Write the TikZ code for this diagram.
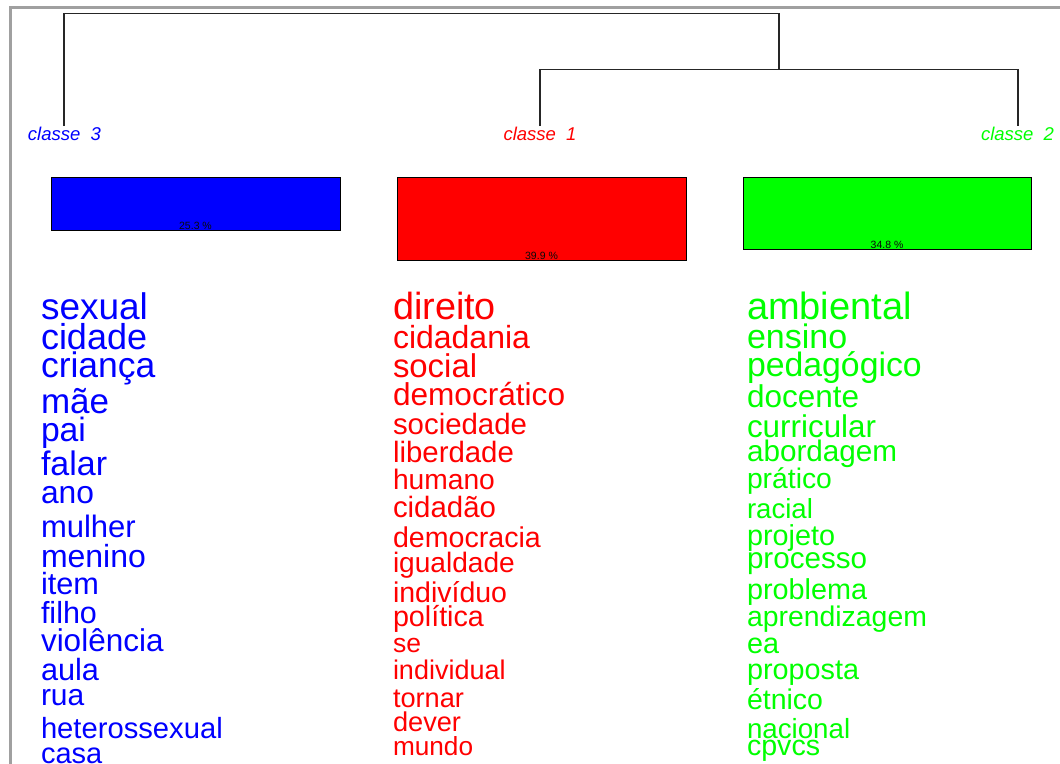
\documentclass[tikz,border=0pt]{standalone}
\usepackage{fontspec}
\setmainfont{Liberation Sans}
\definecolor{framegray}{RGB}{160,160,160}
\definecolor{pctgray}{RGB}{10,10,10}
\definecolor{lime}{RGB}{0,255,0}
\tikzset{
  word/.style={anchor=base west, inner sep=0pt, outer sep=0pt},
  classlabel/.style={anchor=base, inner sep=0pt, font=\fontsize{18.5}{18.5}\selectfont\itshape},
  bar/.style={draw=black, line width=1pt, inner sep=0pt},
  pct/.style={anchor=base, inner sep=0pt, text=pctgray, font=\fontsize{10.5}{10.5}\selectfont},
  dendro/.style={draw=black!85, line width=1.2pt},
}
\begin{document}
\begin{tikzpicture}[x=1pt,y=-1pt]
\useasboundingbox (0,0) rectangle (1060,763);
% frame
\draw[framegray, line width=3pt] (10.5,770) -- (10.5,7.5) -- (1070,7.5);
% dendrogram
\coordinate (c3) at (64,126);
\coordinate (c1) at (540,126);
\coordinate (c2) at (1018,126);
\coordinate (m12) at (779,69.5);
\coordinate (r) at (779,13.5);
\draw[dendro] (c3) |- (r) -- (m12);
\draw[dendro] (c1) |- (m12) -| (c2);
% class labels
\node[classlabel, text=blue] (l3) at (64.5,140) {classe\ \ 3};
\node[classlabel, text=red] (l1) at (540,140) {classe\ \ 1};
\node[classlabel, text=lime] (l2) at (1017.5,140) {classe\ \ 2};
% bars
\node[bar, fill=blue, minimum width=289pt, minimum height=53pt] (bar3) at (195.5,203.5) {};
\node[bar, fill=red, minimum width=289pt, minimum height=83pt] (bar1) at (541.5,218.5) {};
\node[bar, fill=lime, minimum width=288pt, minimum height=72pt] (bar2) at (887,213) {};
\node[pct] (p3) at ([yshift=1.5pt]bar3.south) {25.3 \%};
\node[pct] (p1) at ([yshift=1.5pt]bar1.south) {39.9 \%};
\node[pct] (p2) at ([yshift=1.5pt]bar2.south) {34.8 \%};
% words class 3
\foreach \s/\yy/\w [count=\i] in {37/319/sexual, 36/349/cidade, 35.5/377/criança, 35/413/mãe, 33.7/441/pai, 34/475/falar, 31.8/503/ano, 31/537/mulher, 32/567/menino, 30.7/594/item, 30.5/623/filho, 31.5/651/violência, 30.7/680/aula, 30/705/rua, 29.2/738/heterossexual, 29/763/casa}
  \node[word, text=blue, font=\fontsize{\s}{\s}\selectfont] (b\i) at (41,\yy) {\w};
% words class 1
\foreach \s/\yy/\w [count=\i] in {37.8/319/direito, 32/348/cidadania, 32.9/377/social, 31.6/405/democrático, 29.4/434/sociedade, 29.4/462/liberdade, 28.2/489/humano, 29.4/517/cidadão, 28.6/547/democracia, 28.1/572/igualdade, 28.5/602/indivíduo, 28.7/626/política, 26.5/652/se, 27/679/individual, 27.2/707/tornar, 27.2/731/dever, 26.2/755/mundo}
  \node[word, text=red, font=\fontsize{\s}{\s}\selectfont] (r\i) at (393,\yy) {\w};
% words class 2
\foreach \s/\yy/\w [count=\i] in {38/319/ambiental, 34/348/ensino, 33.8/376/pedagógico, 31.5/407/docente, 31.4/437/curricular, 29.7/461/abordagem, 28.3/488/prático, 27.6/518/racial, 28.8/545/projeto, 29.6/568/processo, 28.8/599/problema, 28.4/626/aprendizagem, 28.8/653/ea, 28.8/679/proposta, 28.5/709/étnico, 27.7/738/nacional, 28.6/755/cpvcs}
  \node[word, text=lime, font=\fontsize{\s}{\s}\selectfont] (g\i) at (747,\yy) {\w};
\end{tikzpicture}
\end{document}
